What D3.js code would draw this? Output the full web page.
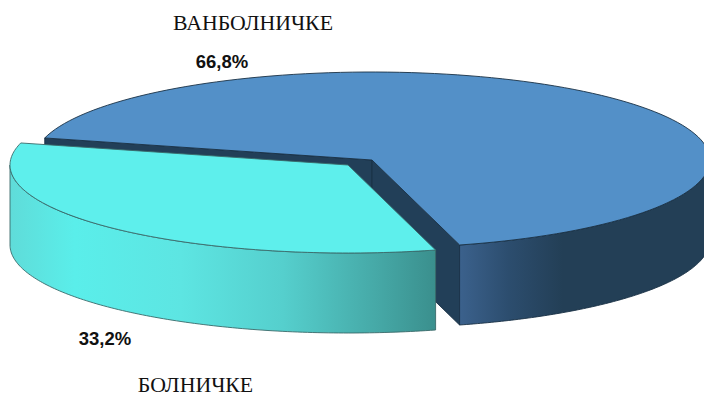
<!DOCTYPE html>
<html>
<head>
<meta charset="utf-8">
<script src="https://d3js.org/d3.v7.min.js"></script>
<style>
    html, body { margin: 0; padding: 0; background: #fff; }
    svg { display: block; }
</style>
</head>
<body>
<div id="container"></div>
<script>
// chart values
const categories = ['ВАНБОЛНИЧКЕ', 'БОЛНИЧКЕ']
const values = [66.8, 33.2]
const valueLabels = ['66,8%', '33,2%']

const width = 704, height = 394
const depth = 80
const deg = Math.PI / 180

// top colour, cut face colour and rim gradient for each slice
const topColors = ['#5390c8', '#5eefec']
const faceColor = '#223f58'
const rimStops = [
    [[0, '#3b618c'], [0.2, '#2c4d6e'], [0.42, '#233f56'], [1, '#233f56']],
    [[0, '#5fdcd9'], [0.15, '#5aeeea'], [0.4, '#5de5e2'], [0.64, '#55cfcd'], [0.87, '#45a7a5'], [1, '#3a8f8d']]
]
// pie geometry of each slice: centre and radii
const geom = [
    { cx: 372, cy: 160, rx: 338, ry: 88 },
    { cx: 348, cy: 165, rx: 338, ry: 88 }
]

const svg = d3.select('#container').append('svg')
    .attr('width', width)
    .attr('height', height)

const pie = d3.pie().sort(null)
    .startAngle(284.5 * deg)
    .endAngle(644.5 * deg)
const slices = pie(values)

// d3.pie angles run clockwise from 12 o'clock
const pt = (g, a) => [g.cx + g.rx * Math.sin(a), g.cy - g.ry * Math.cos(a)]
const arcPts = (g, a0, a1) => d3.range(0, 121).map(i => pt(g, a0 + (a1 - a0) * i / 120))
const line = d3.line()
const down = p => [p[0], p[1] + depth]

const defs = svg.append('defs')
rimStops.forEach((stops, i) => {
    const x = i === 0 ? [460, 704] : [11, 436]
    defs.append('linearGradient')
        .attr('id', 'rim' + i)
        .attr('gradientUnits', 'userSpaceOnUse')
        .attr('x1', x[0]).attr('x2', x[1]).attr('y1', 0).attr('y2', 0)
        .selectAll('stop').data(stops).join('stop')
        .attr('offset', d => d[0])
        .attr('stop-color', d => d[1])
})

const drawSlice = (s, i, g, edgeColor) => {
    const group = svg.append('g')
        .attr('stroke', edgeColor)
        .attr('stroke-width', 0.9)
        .attr('stroke-linejoin', 'round')
    const c = [g.cx, g.cy]

    // cut faces of the big slice, the small one hides its own
    if (i === 0) {
        [pt(g, s.startAngle), pt(g, s.endAngle)].forEach(p => {
            group.append('path')
                .attr('fill', faceColor)
                .attr('d', line([c, p, down(p), down(c)]) + 'Z')
        })
    }

    // rim: only the front half of the ellipse (450deg to 630deg) shows
    const rim = arcPts(g, Math.max(s.startAngle, 450 * deg), Math.min(s.endAngle, 630 * deg))
    group.append('path')
        .attr('fill', `url(#rim${i})`)
        .attr('d', line(rim.concat(rim.map(down).reverse())) + 'Z')

    // top
    group.append('path')
        .attr('fill', topColors[i])
        .attr('d', line([c].concat(arcPts(g, s.startAngle, s.endAngle))) + 'Z')
}

drawSlice(slices[0], 0, geom[0], '#1a3145')
drawSlice(slices[1], 1, geom[1], '#3a6a6a')

// category names
const catPos = [[253, 30], [195.5, 391.5]]
svg.selectAll('text.cat').data(categories).join('text')
    .attr('class', 'cat')
    .attr('x', (d, i) => catPos[i][0])
    .attr('y', (d, i) => catPos[i][1])
    .attr('text-anchor', 'middle')
    .attr('font-family', '"Liberation Serif", serif')
    .attr('font-size', 21.8)
    .attr('fill', '#111')
    .text(d => d)

// value labels
const valPos = [[222, 67.5], [105, 345]]
svg.selectAll('text.val').data(valueLabels).join('text')
    .attr('class', 'val')
    .attr('x', (d, i) => valPos[i][0])
    .attr('y', (d, i) => valPos[i][1])
    .attr('text-anchor', 'middle')
    .attr('font-family', '"Liberation Sans", sans-serif')
    .attr('font-weight', 'bold')
    .attr('font-size', 18.5)
    .attr('fill', '#111')
    .text(d => d)
</script>
</body>
</html>
